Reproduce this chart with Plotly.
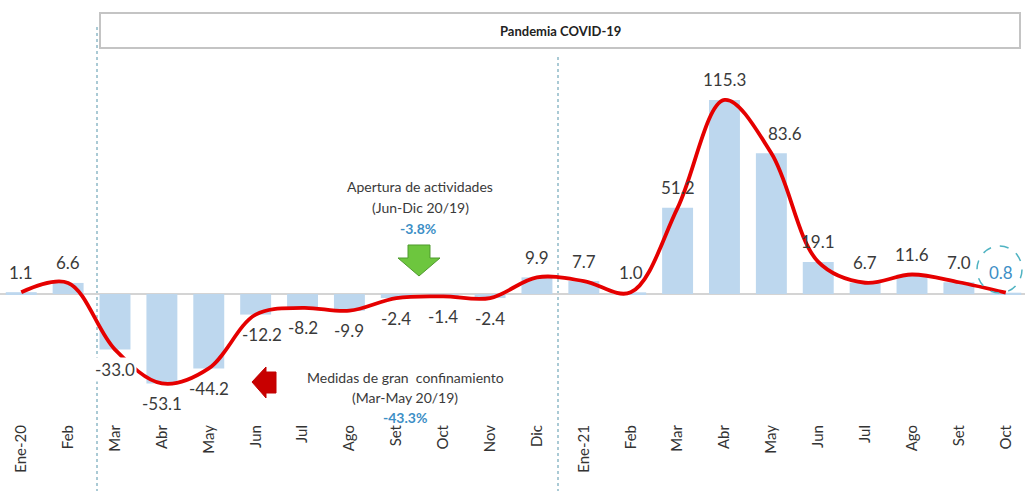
import plotly.graph_objects as go

# ---- data ----
months = ["Ene-20", "Feb", "Mar", "Abr", "May", "Jun", "Jul", "Ago", "Set", "Oct", "Nov", "Dic",
          "Ene-21", "Feb", "Mar", "Abr", "May", "Jun", "Jul", "Ago", "Set", "Oct"]
values = [1.1, 6.6, -33.0, -53.1, -44.2, -12.2, -8.2, -9.9, -2.4, -1.4, -2.4, 9.9,
          7.7, 1.0, 51.2, 115.3, 83.6, 19.1, 6.7, 11.6, 7.0, 0.8]
x_idx = list(range(len(months)))

W, H = 1025, 491
ML, MR, MT, MB = 0, 0, 0, 81
PH = H - MT - MB

def px(x):
    return (x - ML) / (W - ML - MR)

def py(y):
    return (PH - (y - MT)) / PH

FONT = "Lato"
TXT = "#3a3a3a"
BLUE = "#3d8fc6"

fig = go.Figure()

fig.add_trace(go.Bar(
    x=x_idx, y=values, width=0.66,
    marker=dict(color="#bdd7ee", line=dict(width=0)),
    hoverinfo="skip", showlegend=False,
))

fig.add_trace(go.Scatter(
    x=x_idx, y=values, mode="lines",
    line=dict(color="#e50000", width=3.8, shape="spline", smoothing=1.0),
    hoverinfo="skip", showlegend=False,
))

annotations = []
last = len(values) - 1
for i, v in enumerate(values):
    xs = 0
    if i == 16:
        xs = 14
    elif i == 5:
        xs = 6
    elif i == last:
        xs = -5
    annotations.append(dict(
        x=i, y=v, xref="x", yref="y", text=f"{v:.1f}", showarrow=False,
        xanchor="center", yanchor="middle",
        yshift=20 if v >= 0 else -20, xshift=xs,
        font=dict(family=FONT, size=17, color=BLUE if i == last else TXT),
        bgcolor="white" if i == 2 else None,
    ))

def note(text, x, y, size, color):
    annotations.append(dict(x=px(x), y=py(y), xref="paper", yref="paper", showarrow=False,
                            xanchor="center", yanchor="middle", text=text,
                            font=dict(family=FONT, size=size, color=color)))

# Pandemia box title
note("<b>Pandemia COVID-19</b>", 560, 31, 13, "#222222")

# Apertura annotation
note("Apertura de actividades", 420, 187, 14, TXT)
note("(Jun-Dic 20/19)", 420, 207, 14, TXT)
note("<b>-3.8%</b>", 418, 228, 14, BLUE)

# Medidas annotation
note("Medidas de gran  confinamiento", 405, 377, 14, TXT)
note("(Mar-May 20/19)", 405, 397, 14, TXT)
note("<b>-43.3%</b>", 405, 417, 14, BLUE)

shapes = []
# title box
shapes.append(dict(type="rect", xref="paper", yref="paper",
                   x0=px(100), x1=px(1020), y0=py(48), y1=py(13),
                   line=dict(color="#c4c4c4", width=2), fillcolor="white", layer="below"))
# dashed separators
for xx, ytop in [(97, 27), (558, 57)]:
    shapes.append(dict(type="line", xref="paper", yref="paper",
                       x0=px(xx), x1=px(xx), y0=py(ytop), y1=py(491),
                       line=dict(color="#8fb9c8", width=1.5, dash="dot"), layer="below"))
# circle around last value
shapes.append(dict(type="circle", xref="paper", yref="paper",
                   x0=px(977), x1=px(1022), y0=py(293), y1=py(246),
                   line=dict(color="#4fb3c2", width=1.5, dash="dash")))


def path(points):
    return "M " + " L ".join(f"{px(a):.5f},{py(b):.5f}" for a, b in points) + " Z"

# green down arrow
green_pts = [(408, 245), (430, 245), (430, 258), (440, 258), (419, 276), (398, 258), (408, 258)]
shapes.append(dict(type="path", xref="paper", yref="paper", path=path(green_pts),
                   fillcolor="#6dc63e", line=dict(color="#4f9a2e", width=1)))
# red left arrow
red_pts = [(252, 382), (266, 367), (266, 372), (276, 372), (276, 393), (266, 393), (266, 398)]
shapes.append(dict(type="path", xref="paper", yref="paper", path=path(red_pts),
                   fillcolor="#c80000", line=dict(color="#c00000", width=1)))

fig.update_layout(
    width=W, height=H,
    margin=dict(l=ML, r=MR, t=MT, b=MB, autoexpand=False),
    paper_bgcolor="white", plot_bgcolor="white",
    bargap=0.34,
    annotations=annotations,
    shapes=shapes,
    xaxis=dict(range=[-0.453, 21.41], tickmode="array", tickvals=x_idx, ticktext=months,
               tickangle=-90, tickfont=dict(family=FONT, size=15, color="#333333"),
               showgrid=False, zeroline=False, showline=False, ticks="outside",
               ticklen=8, tickcolor="rgba(0,0,0,0)", automargin=False),
    yaxis=dict(range=[-68.9, 174.7], visible=True, showticklabels=False, showgrid=False,
               zeroline=True, zerolinecolor="#d4d4d4", zerolinewidth=1.5, automargin=False),
)

fig.write_html("out.html", config={"displayModeBar": False},
               post_script="document.body.style.margin='0';")
